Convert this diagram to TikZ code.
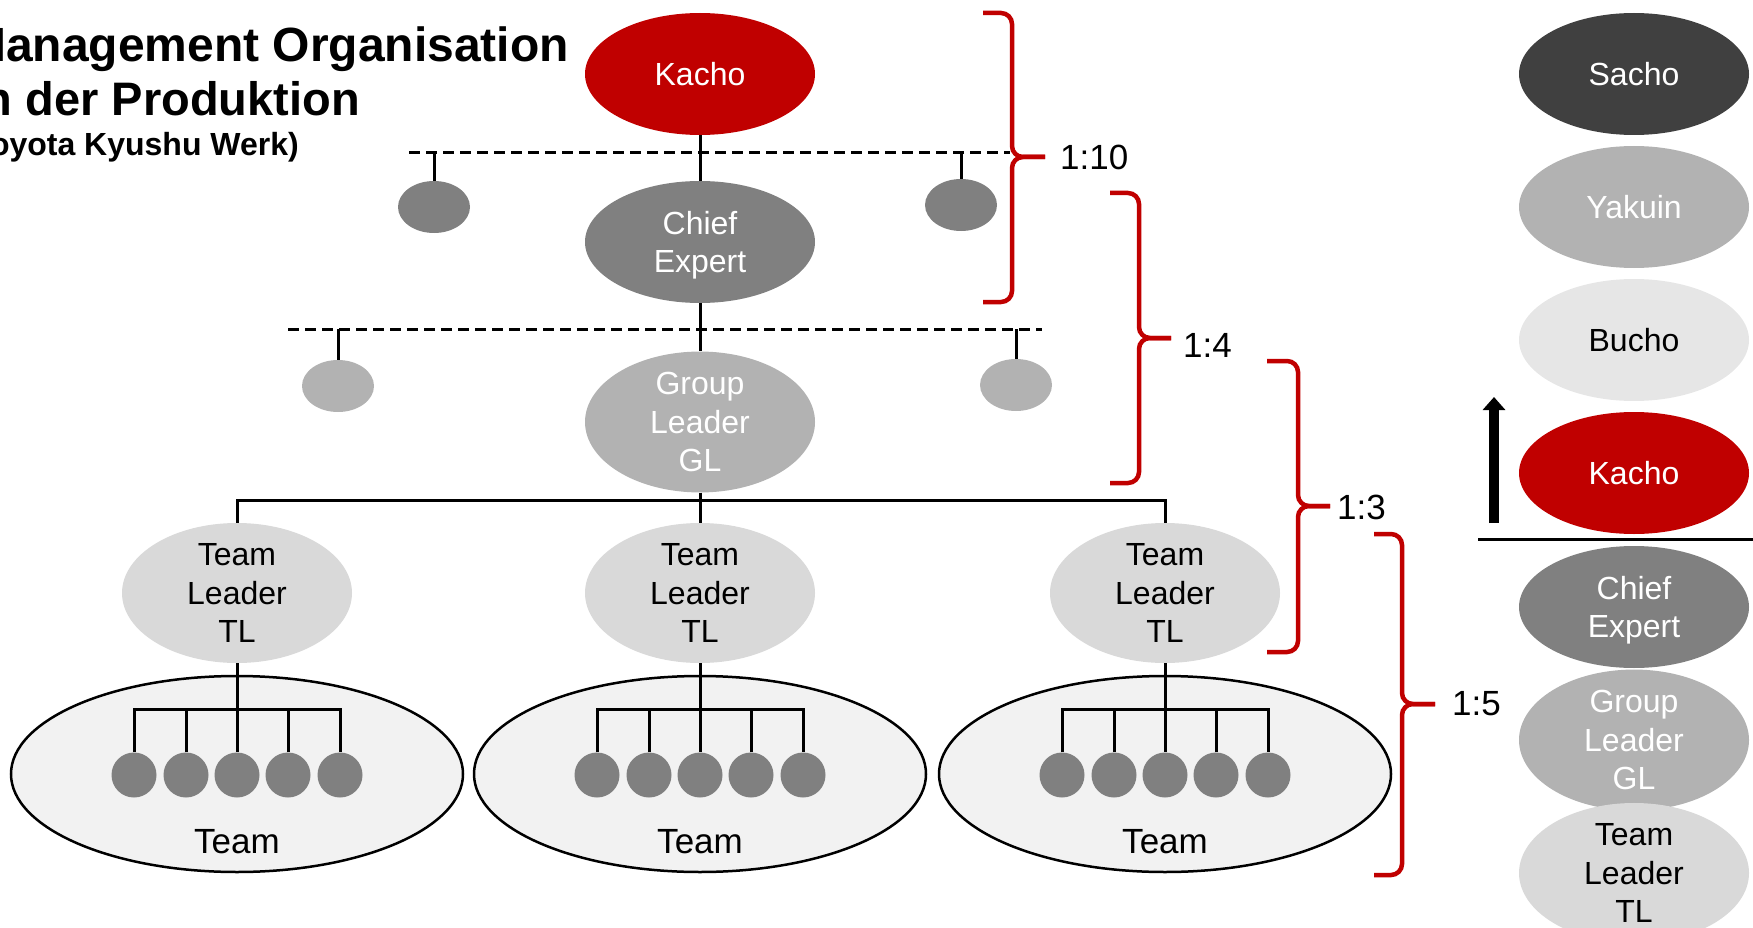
\documentclass[tikz,border=0pt]{standalone}
\usepackage{fontspec}
\setmainfont{Liberation Sans}
\usetikzlibrary{shapes.geometric,arrows.meta}
\definecolor{kred}{HTML}{C00000}
\definecolor{g40}{HTML}{404040}
\definecolor{g80}{HTML}{808080}
\definecolor{gb2}{HTML}{B2B2B2}
\definecolor{gd9}{HTML}{D9D9D9}
\definecolor{ge6}{HTML}{E6E6E6}
\definecolor{gf2}{HTML}{F2F2F2}
\begin{document}
\begin{tikzpicture}[x=1pt,y=-1pt,
  ell/.style={ellipse,minimum width=230pt,minimum height=122pt,inner sep=0pt,align=center,font=\fontsize{32}{38.5}\selectfont},
  redell/.style={ell,fill=kred,text=white},
  ceell/.style={ell,fill=g80,text=white,text depth=0pt},
  glell/.style={ell,fill=gb2,text=white},
  tlell/.style={ell,fill=gd9,text=black},
  teamell/.style={ellipse,minimum width=452pt,minimum height=196pt,inner sep=0pt,draw=black,line width=2.5pt,fill=gf2},
  member/.style={circle,minimum size=45pt,inner sep=0pt,fill=g80},
  small/.style={ellipse,minimum width=72pt,minimum height=52pt,inner sep=0pt},
  conn/.style={draw=black,line width=3pt},
  dline/.style={draw=black,line width=3pt,dash pattern=on 11pt off 6pt},
  brace/.style={draw=kred,line width=4.5pt,rounded corners=11pt},
  ratio/.style={anchor=west,inner sep=0pt,font=\fontsize{35}{40}\selectfont},
  titlefont/.style={anchor=base east,inner sep=0pt},
  teamlbl/.style={inner sep=0pt,font=\fontsize{35}{40}\selectfont}
]
\clip (0,0) rectangle (1753,928);

% title
\node[titlefont,font=\bfseries\fontsize{48}{57}\selectfont] (t1) at (569,62) {Management Organisation};
\node[titlefont,font=\bfseries\fontsize{47}{56}\selectfont] (t2) at (360,116) {in der Produktion};
\node[titlefont,font=\bfseries\fontsize{32}{37}\selectfont] (t3) at (299,156) {(Toyota Kyushu Werk)};

% main hierarchy
\node[redell] (kacho) at (700,74) {Kacho};
\node[ceell] (ce) at (700,242) {Chief\\Expert};
\node[glell] (gl) at (700,422) {Group\\Leader\\GL};

% dashed lines
\coordinate (d1a) at (409,153);
\coordinate (d1b) at (1010,153);
\coordinate (d2a) at (288,329);
\coordinate (d2b) at (1042,329);
\draw[dline] (d1a) -- (d1b);
\draw[dline] (d2a) -- (d2b);

\node[small,fill=g80] (sc1) at (434,207) {};
\node[small,fill=g80] (sc2) at (961,205) {};
\node[small,fill=gb2] (sc3) at (338,386) {};
\node[small,fill=gb2] (sc4) at (1016,385) {};
\draw[conn] (sc1.north |- d1a) -- (sc1.north);
\draw[conn] (sc2.north |- d1a) -- (sc2.north);
\draw[conn] (sc3.north |- d2a) -- (sc3.north);
\draw[conn] (sc4.north |- d2a) -- (sc4.north);

\draw[conn] (kacho) -- (ce);
\draw[conn] (ce) -- (gl);

% team leaders
\node[tlell] (tl1) at (237,593) {Team\\Leader\\TL};
\node[tlell] (tl2) at (700,593) {Team\\Leader\\TL};
\node[tlell] (tl3) at (1165,593) {Team\\Leader\\TL};
\coordinate (hbar) at (700,500);
\draw[conn] (gl) -- (tl2);
\draw[conn] (tl1.north) |- (hbar) -| (tl3.north);

% teams
\foreach \i/\cx in {1/237,2/700,3/1165}{
  \node[teamell] (team\i) at (\cx,774) {};
  \node[teamlbl] (teamlbl\i) at (\cx,842) {Team};
  \foreach \j/\dx in {1/-103,2/-51,3/0,4/51,5/103}{
    \node[member] (m\i\j) at (\cx+\dx,775) {};
  }
  \coordinate (bar\i) at (\cx,709);
  \draw[conn] (m\i1.north) |- (bar\i) -| (m\i5.north);
  \draw[conn] (m\i2.north) -- (m\i2.north |- bar\i);
  \draw[conn] (m\i4.north) -- (m\i4.north |- bar\i);
  \draw[conn] (tl\i) -- (m\i3.north);
}

% braces
\draw[brace] (983,13) -- (1012,13) -- (1012,157) -- (1045,157);
\draw[brace] (983,302) -- (1012,302) -- (1012,157) -- (1045,157);
\node[ratio] (r1) at (1060,157) {1:10};

\draw[brace] (1110,193) -- (1139,193) -- (1139,338) -- (1171,338);
\draw[brace] (1110,483) -- (1139,483) -- (1139,338) -- (1171,338);
\node[ratio] (r2) at (1183,345) {1:4};

\draw[brace] (1267,361) -- (1298,361) -- (1298,506) -- (1330,506);
\draw[brace] (1267,652) -- (1298,652) -- (1298,506) -- (1330,506);
\node[ratio] (r3) at (1337,507) {1:3};

\draw[brace] (1374,534) -- (1402,534) -- (1402,704) -- (1435,704);
\draw[brace] (1374,875) -- (1402,875) -- (1402,704) -- (1435,704);
\node[ratio] (r4) at (1452,704) {1:5};

% right column
\node[ell,fill=g40,text=white] (rsacho) at (1634,74) {Sacho};
\node[ell,fill=gb2,text=white] (ryakuin) at (1634,207) {Yakuin};
\node[ell,fill=ge6,text=black] (rbucho) at (1634,340) {Bucho};
\node[redell] (rkacho) at (1634,473) {Kacho};
\node[ceell] (rce) at (1634,607) {Chief\\Expert};
\node[glell] (rgl) at (1634,740) {Group\\Leader\\GL};
\node[tlell] (rtl) at (1634,873) {Team\\Leader\\TL};

\coordinate (arrS) at (1494,523);
\coordinate (arrE) at (1494,397);
\draw[line width=10pt,-{Triangle[width=22pt,length=13pt]}] (arrS) -- (arrE);
\coordinate (sepA) at (1478,539);
\coordinate (sepB) at (1753,539);
\draw[line width=3pt] (sepA) -- (sepB);
\end{tikzpicture}
\end{document}
